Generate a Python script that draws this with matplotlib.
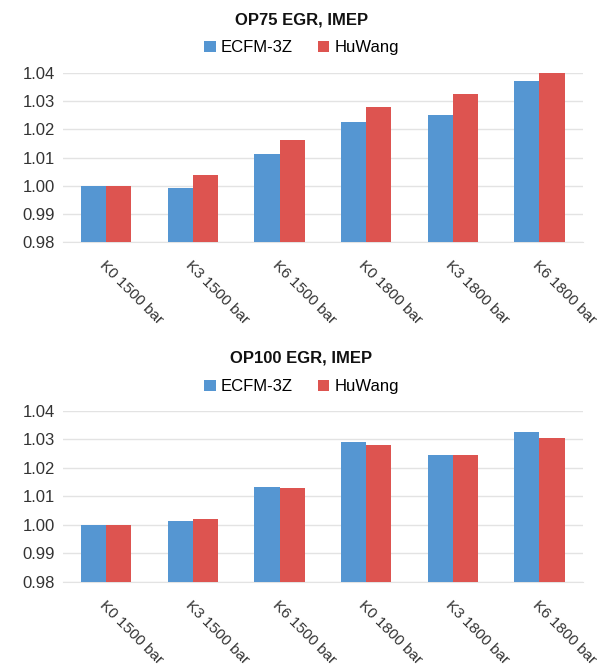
import matplotlib
matplotlib.use('Agg')
import matplotlib.pyplot as plt
import numpy as np

categories = ['K0 1500 bar', 'K3 1500 bar', 'K6 1500 bar',
              'K0 1800 bar', 'K3 1800 bar', 'K6 1800 bar']
series_names = ['ECFM-3Z', 'HuWang']

op75_ecfm = [1.0000, 0.9992, 1.0112, 1.0227, 1.0252, 1.0370]
op75_huwang = [1.0000, 1.0038, 1.0161, 1.0280, 1.0324, 1.0400]

op100_ecfm = [1.0000, 1.0014, 1.0133, 1.0291, 1.0246, 1.0325]
op100_huwang = [1.0000, 1.0022, 1.0128, 1.0280, 1.0243, 1.0306]

yticks = [0.98, 0.99, 1.00, 1.01, 1.02, 1.03, 1.04]

colors = ['#5596D2', '#DD5450']
plt.rcParams['font.family'] = ['Liberation Sans', 'DejaVu Sans']

fig = plt.figure(figsize=(6.03, 6.66), dpi=100)


def draw_panel(rect, title, title_y, legend_y, ecfm, huwang):
    ax = fig.add_axes(rect)
    x = np.arange(len(categories))
    w = 0.29
    ax.bar(x - w / 2, ecfm, w, color=colors[0], label=series_names[0], zorder=3)
    ax.bar(x + w / 2, huwang, w, color=colors[1], label=series_names[1], zorder=3)
    ax.set_ylim(0.98, 1.04)
    ax.set_xlim(-0.5, len(categories) - 0.5)
    ax.set_yticks(yticks)
    ax.set_yticklabels([f'{t:.2f}' for t in yticks], fontsize=12, color='#333333')
    ax.set_xticks(x)
    ax.set_xticklabels(categories, rotation=-45, ha='left', va='top',
                       rotation_mode='anchor', fontsize=11, color='#333333')
    ax.tick_params(axis='both', length=0, pad=6)
    ax.tick_params(axis='x', pad=12)
    ax.grid(True, axis='y', color='#E3E3E3', linewidth=1, zorder=0)
    for s in ['top', 'right', 'left']:
        ax.spines[s].set_visible(False)
    ax.spines['bottom'].set_color('#E3E3E3')
    fig.text(0.5, title_y, title, ha='center', va='center',
             fontsize=12, fontweight='bold', color='#111111')
    ax.legend(loc='center', bbox_to_anchor=(0.5, legend_y),
              bbox_transform=fig.transFigure, ncol=2, frameon=False,
              fontsize=12, handlelength=0.7, handleheight=0.7,
              handletextpad=0.3, columnspacing=1.5)
    return ax


draw_panel([0.1045, 0.6366, 0.862, 0.2538], 'OP75 EGR, IMEP', 0.970, 0.928,
           op75_ecfm, op75_huwang)
draw_panel([0.1045, 0.1261, 0.862, 0.2573], 'OP100 EGR, IMEP', 0.4625, 0.419,
           op100_ecfm, op100_huwang)

plt.savefig('out.png', dpi=100)
plt.close()
